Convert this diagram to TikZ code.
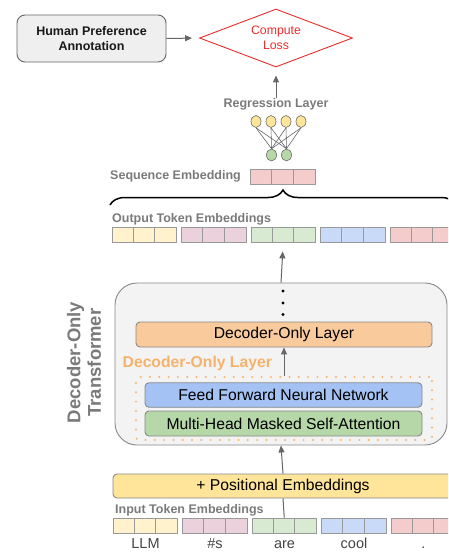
\documentclass[tikz,border=0pt]{standalone}
\usepackage{fontspec}
\setmainfont{Liberation Sans}
\usetikzlibrary{shapes.geometric,arrows.meta,decorations.pathreplacing}
\definecolor{edgec}{HTML}{666666}
\definecolor{boxline}{HTML}{888888}
\definecolor{cellline}{HTML}{999999}
\definecolor{lblc}{HTML}{7A7A7A}
\definecolor{lossred}{HTML}{EE2B2B}
\definecolor{hpafill}{HTML}{EFEFEF}
\definecolor{tfill}{HTML}{F3F3F3}
\definecolor{orangefill}{HTML}{F9CB9C}
\definecolor{orangec}{HTML}{F6B26B}
\definecolor{bluefill}{HTML}{A4C2F4}
\definecolor{greenfill}{HTML}{B6D7A8}
\definecolor{posfill}{HTML}{FFE599}
\definecolor{cyel}{HTML}{FFF2CC}
\definecolor{cpnk}{HTML}{EAD1DC}
\definecolor{cgrn}{HTML}{D9EAD3}
\definecolor{cblu}{HTML}{C9DAF8}
\definecolor{cred}{HTML}{F4CCCC}
\definecolor{wordc}{HTML}{444444}
\newcommand\lblfont{\fontsize{12.5}{14}\selectfont\bfseries}
\newcommand\boxfont{\fontsize{15.7}{18}\selectfont}
\begin{document}
\begin{tikzpicture}[x=1pt,y=-1pt,
  arr/.style={draw=edgec,line width=1pt,-{Triangle[length=7pt,width=6pt]}},
  plainline/.style={draw=edgec,line width=1pt},
  nn/.style={draw=edgec,line width=0.6pt},
  lbl/.style={font=\lblfont,text=lblc,inner sep=0pt},
  layerbox/.style={draw=boxline,line width=0.9pt,rounded corners=4pt,inner sep=0pt,font=\boxfont,text=black},
  cellgrp/.style={draw=cellline,line width=0.8pt,inner sep=0pt,minimum width=64.5pt,minimum height=15pt},
  neuron/.style={ellipse,draw=edgec,line width=0.6pt,inner sep=0pt,minimum width=10pt,minimum height=12pt},
  word/.style={font=\fontsize{14.5}{17}\selectfont,text=wordc,inner sep=0pt,anchor=base}]
\useasboundingbox (0,0) rectangle (448,552);
\clip (0,0) rectangle (448,552);

% top row
\node[draw=edgec,line width=0.9pt,rounded corners=8pt,fill=hpafill,inner sep=0pt,
  minimum width=149pt,minimum height=47pt,align=center,
  font=\fontsize{12.5}{15}\selectfont\bfseries,text=black!90] (hpa) at (91.5,38.5) {Human Preference\\Annotation};
\node[diamond,draw=lossred,line width=0.9pt,aspect=2.64,inner sep=0pt,
  minimum width=153pt,minimum height=58pt,align=center,
  font=\fontsize{12.3}{15}\selectfont,text=lossred] (loss) at (276,38) {Compute\\Loss};
\draw[arr,shorten >=7pt] (hpa.east) -- (loss.west);

% regression layer
\node[lbl] (reg) at (276,104) {Regression Layer};
\draw[arr,shorten >=8pt] (reg.north) -- (loss.south);
\foreach \i/\x in {1/256,2/271,3/286,4/301}
  \node[neuron,fill=posfill] (y\i) at (\x,121.5) {};
\foreach \i/\x in {1/271.5,2/286.5}
  \node[neuron,fill=greenfill] (g\i) at (\x,155) {};
\foreach \a in {1,...,4}
  \foreach \b in {1,2}
    \draw[nn] (y\a.south) -- (g\b.north);

% sequence embedding
\node[cellgrp,fill=cred] (seq) at (283,176.5) {};
\draw[draw=cellline,line width=0.8pt] ([xshift=21.5pt]seq.north west) -- ([xshift=21.5pt]seq.south west)
  ([xshift=43pt]seq.north west) -- ([xshift=43pt]seq.south west);
\node[lbl,anchor=east] (seqlbl) at (241,176) {Sequence Embedding};

% brace
\coordinate (bl) at (110,205);
\coordinate (br) at (456,205);
\draw[line width=1.5pt,decorate,decoration={brace,amplitude=15pt}] (bl) -- (br);

% output token embeddings
\node[lbl,anchor=west] (outlbl) at (112,219.5) {Output Token Embeddings};
\foreach \i/\c in {0/cyel,1/cpnk,2/cgrn,3/cblu,4/cred} {
  \node[cellgrp,fill=\c] (out\i) at (112+69.5*\i+32.25,234.5) {};
  \draw[draw=cellline,line width=0.8pt] ([xshift=21.5pt]out\i.north west) -- ([xshift=21.5pt]out\i.south west)
    ([xshift=43pt]out\i.north west) -- ([xshift=43pt]out\i.south west);
}

% transformer block
\node[draw=boxline,line width=0.9pt,fill=tfill,rounded corners=22pt,inner sep=0pt,
  minimum width=332pt,minimum height=162pt] (tf) at (281,364) {};
\draw[arr,shorten >=9pt] (tf.north) -- (out2.south);
\foreach \yy/\n in {291/d1,303/d2,314.5/d3}
  \fill (283,\yy) circle (1.6pt);
\node[layerbox,fill=orangefill,minimum width=296pt,minimum height=25pt] (dec) at (284,334.5) {Decoder-Only Layer};
\node[font=\fontsize{15.7}{18}\selectfont\bfseries,text=orangec,inner sep=0pt,anchor=west] (declbl) at (122.5,363.5) {Decoder-Only Layer};
\node[draw=orangec,line width=2.2pt,dash pattern=on 0pt off 9.3pt,line cap=round,rounded corners=3pt,
  inner sep=0pt,minimum width=296pt,minimum height=63pt] (dots) at (284,408.5) {};
\draw[arr] (dots.north) -- (dec.south);
\node[layerbox,fill=bluefill,minimum width=277pt,minimum height=24.5pt] (ffn) at (283.5,395) {Feed Forward Neural Network};
\node[layerbox,fill=greenfill,minimum width=277pt,minimum height=25pt] (mha) at (283.5,423.5) {Multi-Head Masked Self-Attention};
\node[font=\fontsize{18.5}{20.5}\selectfont\bfseries,text=lblc,align=center,rotate=90,inner sep=0pt] (tflbl) at (84,362.5) {Decoder-Only\\Transformer};

% positional embeddings
\node[layerbox,fill=posfill,minimum width=340pt,minimum height=24pt] (pos) at (283,486) {+ Positional Embeddings};
\draw[arr] (pos.north) -- (tf.south);

% input token embeddings
\node[lbl,anchor=west] (inlbl) at (115,510.5) {Input Token Embeddings};
\foreach \i/\c in {0/cyel,1/cpnk,2/cgrn,3/cblu,4/cred} {
  \node[cellgrp,fill=\c] (in\i) at (113+69.5*\i+32.25,525.5) {};
  \draw[draw=cellline,line width=0.8pt] ([xshift=21.5pt]in\i.north west) -- ([xshift=21.5pt]in\i.south west)
    ([xshift=43pt]in\i.north west) -- ([xshift=43pt]in\i.south west);
}
\draw[plainline] (in2.north) -- (pos.south);

% words
\node[word] (w0) at (145.5,548) {LLM};
\node[word] (w1) at (215,548) {\#s};
\node[word] (w2) at (284.5,548) {are};
\node[word] (w3) at (354,548) {cool};
\node[word] (w4) at (423.5,548) {.};
\end{tikzpicture}
\end{document}
